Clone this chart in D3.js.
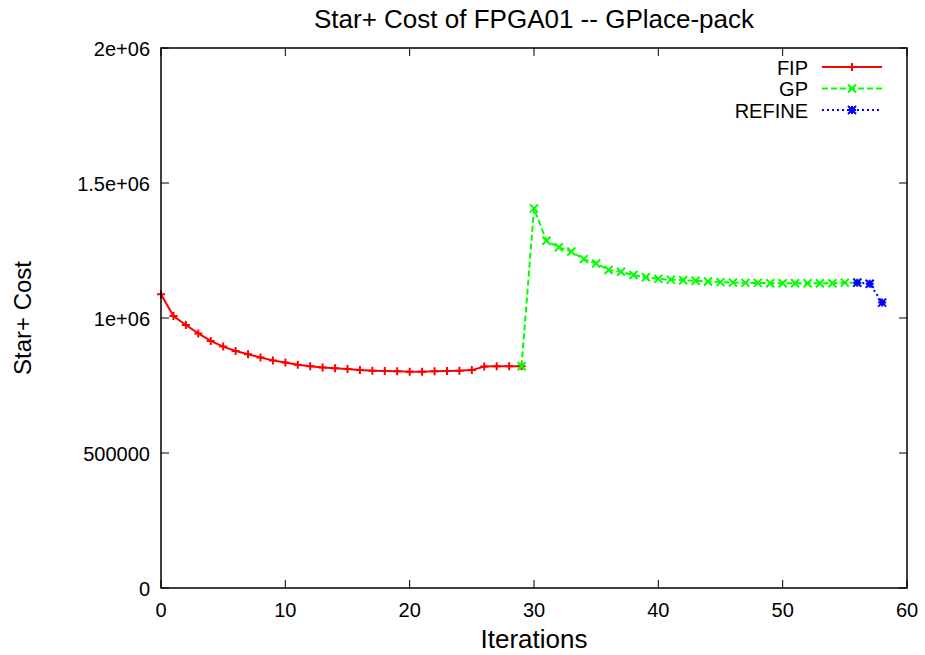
<!DOCTYPE html>
<html>
<head>
<meta charset="utf-8">
<script src="https://d3js.org/d3.v7.min.js"></script>
<style>
  body { margin: 0; background: #fff; }
  text { font-family: "Liberation Sans", Arial, Helvetica, sans-serif; fill: #000; }
</style>
</head>
<body>
<div id="chart"></div>
<script>
// Data
var fipIter = [0, 1, 2, 3, 4, 5, 6, 7, 8, 9, 10, 11, 12, 13, 14, 15, 16, 17, 18, 19, 20, 21, 22, 23, 24, 25, 26, 27, 28, 29];
var fipCost = [1088000, 1007000, 974000, 943000, 915000, 894000, 878000, 866000, 854000, 843000,
               835000, 827000, 821000, 817000, 814000, 811000, 807000, 805000, 804000, 802500,
               801000, 801000, 802500, 804000, 805000, 807000, 820000, 821000, 821000, 821000];

var gpIter = [29, 30, 31, 32, 33, 34, 35, 36, 37, 38, 39, 40, 41, 42, 43, 44, 45, 46, 47, 48, 49, 50, 51, 52, 53, 54, 55, 56];
var gpCost = [821000, 1406000, 1286000, 1262000, 1246000, 1218000, 1202000, 1178000, 1171000, 1159000,
              1151000, 1145000, 1142000, 1140000, 1138000, 1135000, 1133000, 1131000, 1130000, 1130000,
              1129000, 1129000, 1129000, 1129000, 1129000, 1129000, 1131000, 1131000];

var refineIter = [56, 57, 58];
var refineCost = [1131000, 1127000, 1057000];

var xTicks = [0, 10, 20, 30, 40, 50, 60];
var yTicks = [0, 500000, 1000000, 1500000, 2000000];
var yTickLabels = ["0", "500000", "1e+06", "1.5e+06", "2e+06"];

var seriesNames = ["FIP", "GP", "REFINE"];

// Dimensions
var W = 925, H = 655;
var margin = {top: 48, right: 18, bottom: 67, left: 161},
    width = W - margin.left - margin.right,
    height = H - margin.top - margin.bottom;

var svg = d3.select("#chart")
  .append("svg")
    .attr("width", W)
    .attr("height", H);

var g = svg.append("g")
    .attr("transform", `translate(${margin.left},${margin.top})`);

var x = d3.scaleLinear().domain([0, 60]).range([0, width]);
var y = d3.scaleLinear().domain([0, 2000000]).range([height, 0]);

// Series setup
var series = [
  {name: seriesNames[0], iter: fipIter, cost: fipCost, color: "#ff0000", dash: null, marker: "plus"},
  {name: seriesNames[1], iter: gpIter, cost: gpCost, color: "#00ff00", dash: "6,3", marker: "cross"},
  {name: seriesNames[2], iter: refineIter, cost: refineCost, color: "#0000ff", dash: "2,3", marker: "star"}
];

// Marker path generator, centred on 0,0
function markerPath(type) {
  var s = 4;
  var plus = `M${-s},0L${s},0M0,${-s}L0,${s}`;
  var cross = `M${-s},${-s}L${s},${s}M${-s},${s}L${s},${-s}`;
  if (type === "plus") return plus;
  if (type === "cross") return cross;
  return plus + cross;
}

// Lines and points
var line = d3.line()
  .x(d => x(d[0]))
  .y(d => y(d[1]));

series.forEach(s => {
  var pts = s.iter.map((it, i) => [it, s.cost[i]]);
  g.append("path")
    .datum(pts)
    .attr("fill", "none")
    .attr("stroke", s.color)
    .attr("stroke-width", 2)
    .attr("stroke-dasharray", s.dash)
    .attr("d", line);

  g.selectAll(".m-" + s.name)
    .data(pts)
    .enter()
    .append("path")
    .attr("class", "m-" + s.name)
    .attr("transform", d => `translate(${x(d[0])},${y(d[1])})`)
    .attr("d", markerPath(s.marker))
    .attr("stroke", s.color)
    .attr("stroke-width", 2)
    .attr("fill", "none");
});

// Axes: gnuplot style, ticks inward and mirrored
var tickLen = 8;
g.selectAll(".xt")
  .data(xTicks)
  .enter()
  .append("path")
  .attr("d", d => `M${x(d)},${height}v${-tickLen}M${x(d)},0v${tickLen}`)
  .attr("stroke", "#000")
  .attr("stroke-width", 1);

g.selectAll(".yt")
  .data(yTicks)
  .enter()
  .append("path")
  .attr("d", d => `M0,${y(d)}h${tickLen}M${width},${y(d)}h${-tickLen}`)
  .attr("stroke", "#000")
  .attr("stroke-width", 1);

// Frame
g.append("rect")
  .attr("x", 0)
  .attr("y", 0)
  .attr("width", width)
  .attr("height", height)
  .attr("fill", "none")
  .attr("stroke", "#000")
  .attr("stroke-width", 1.5);

// Tick labels
g.selectAll(".xl")
  .data(xTicks)
  .enter()
  .append("text")
  .attr("x", d => x(d))
  .attr("y", height + 29)
  .attr("text-anchor", "middle")
  .style("font-size", "20px")
  .text(d => d);

g.selectAll(".yl")
  .data(yTicks)
  .enter()
  .append("text")
  .attr("x", -11)
  .attr("y", d => y(d) + 7.5)
  .attr("text-anchor", "end")
  .style("font-size", "20px")
  .text((d, i) => yTickLabels[i]);

// Title and axis labels
svg.append("text")
  .attr("x", margin.left + width / 2)
  .attr("y", 28)
  .attr("text-anchor", "middle")
  .style("font-size", "26px")
  .text("Star+ Cost of FPGA01 -- GPlace-pack");

svg.append("text")
  .attr("x", margin.left + width / 2)
  .attr("y", 648)
  .attr("text-anchor", "middle")
  .style("font-size", "26px")
  .text("Iterations");

svg.append("text")
  .attr("transform", `translate(31,${margin.top + height / 2}) rotate(-90)`)
  .attr("text-anchor", "middle")
  .style("font-size", "24px")
  .text("Star+ Cost");

// Legend
var legend = svg.selectAll(".legend")
  .data(series)
  .enter()
  .append("g")
  .attr("class", "legend")
  .attr("transform", (d, i) => `translate(0,${67 + i * 21.5})`);

legend.append("text")
  .attr("x", 808)
  .attr("y", 7.5)
  .attr("text-anchor", "end")
  .style("font-size", "20px")
  .text(d => d.name);

legend.append("path")
  .attr("d", "M822,0H882")
  .attr("stroke", d => d.color)
  .attr("stroke-width", 2)
  .attr("stroke-dasharray", d => d.dash);

legend.append("path")
  .attr("transform", "translate(852,0)")
  .attr("d", d => markerPath(d.marker))
  .attr("stroke", d => d.color)
  .attr("stroke-width", 2)
  .attr("fill", "none");
</script>
</body>
</html>
